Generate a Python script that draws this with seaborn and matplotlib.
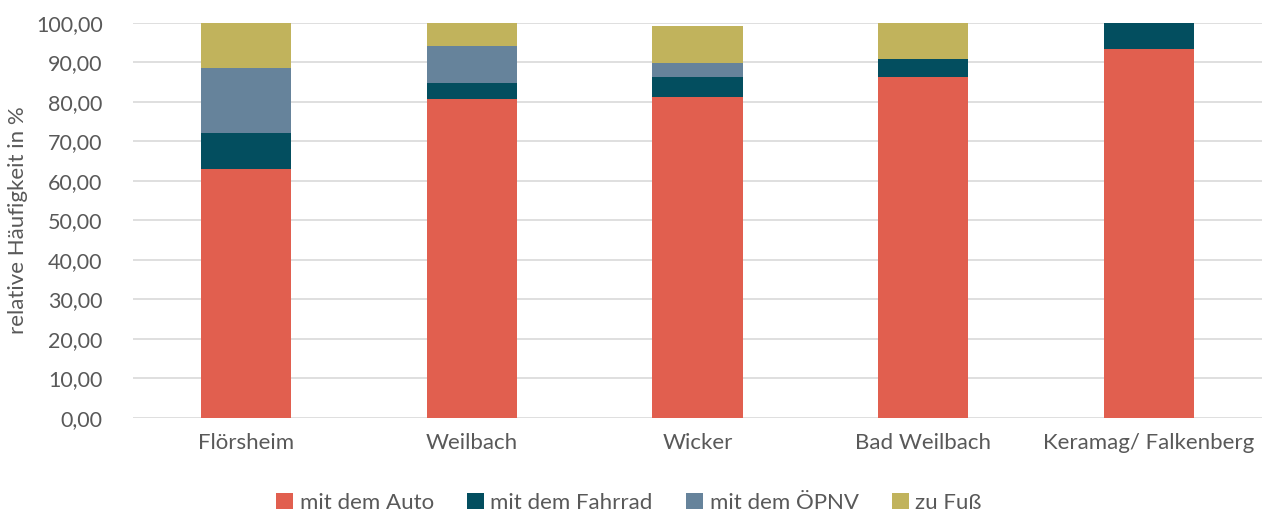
import numpy as np
import pandas as pd
import matplotlib
matplotlib.use("Agg")
import matplotlib.pyplot as plt
import seaborn as sns
from matplotlib.ticker import FuncFormatter

# Verkehrsmittelwahl je Standort (relative Häufigkeit in %)
standorte = ["Flörsheim", "Weilbach", "Wicker", "Bad Weilbach", "Keramag/ Falkenberg"]
auto = [63.0, 80.6, 81.3, 86.3, 93.3]
fahrrad = [9.2, 4.1, 5.0, 4.6, 6.7]
oepnv = [16.4, 9.4, 3.5, 0.0, 0.0]
fuss = [11.4, 5.9, 9.3, 9.1, 0.0]

reihen = ["mit dem Auto", "mit dem Fahrrad", "mit dem ÖPNV", "zu Fuß"]
werte = [auto, fahrrad, oepnv, fuss]
farben = ["#E15F4F", "#034E5F", "#66839B", "#C1B35C"]

sns.set_theme(style="white")
plt.rcParams["font.family"] = ["Lato", "DejaVu Sans"]

fig = plt.figure(figsize=(12.81, 5.16), dpi=100)
ax = fig.add_axes([0.104, 0.19, 0.881, 0.766])

df = pd.DataFrame({"Standort": standorte})
unten = np.zeros(len(standorte))
for name, vals, farbe in zip(reihen, werte, farben):
    df[name] = vals
    sns.barplot(data=df, x="Standort", y=name, bottom=unten, color=farbe,
                width=0.4, label=name, ax=ax, saturation=1, linewidth=0)
    unten = unten + np.array(vals)

ax.set_ylim(0, 100)
ax.set_xlim(-0.5, len(standorte) - 0.5)
ax.set_yticks(np.arange(0, 101, 10))
ax.yaxis.set_major_formatter(FuncFormatter(lambda v, p: f"{v:.2f}".replace(".", ",")))
ax.grid(axis="y", color="#D9D9D9", linewidth=1.2)
ax.set_axisbelow(True)
for s in ax.spines.values():
    s.set_visible(False)

ax.tick_params(axis="y", length=0, labelsize=15.5, labelcolor="#595959", pad=22)
ax.tick_params(axis="x", length=0, labelsize=16, labelcolor="#595959", pad=11)
ax.set_xlabel("")
ax.set_ylabel("relative Häufigkeit in %", fontsize=16, color="#595959", labelpad=6)

handles, labels = ax.get_legend_handles_labels()
ax.legend_ = None
fig.legend(handles, labels, loc="center", bbox_to_anchor=(0.491, 0.025), ncol=4,
           frameon=False, fontsize=16, labelcolor="#595959", handlelength=0.75,
           handleheight=0.75, handletextpad=0.3, columnspacing=1.5)

fig.savefig("out.png", dpi=100)
